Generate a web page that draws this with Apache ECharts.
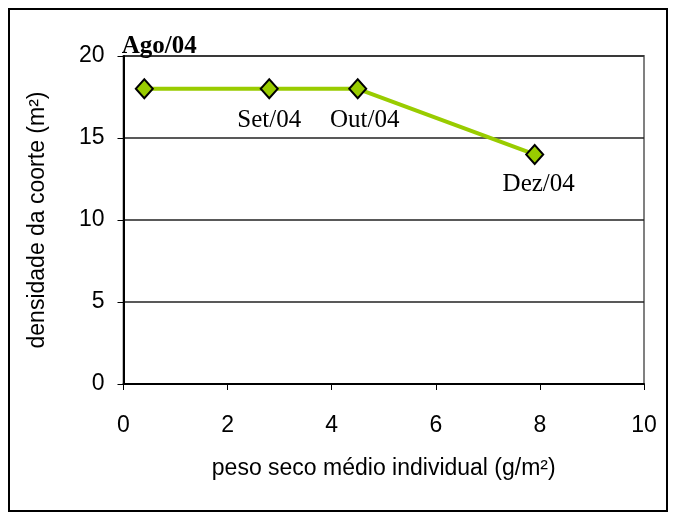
<!DOCTYPE html>
<html>
<head>
<meta charset="utf-8">
<script src="https://cdn.jsdelivr.net/npm/echarts@6/dist/echarts.min.js"></script>
<style>
  html, body { margin: 0; padding: 0; background: #fff; }
  #chart { width: 674px; height: 517px; }
</style>
</head>
<body>
<div id="chart"></div>
<script>
// Cohort trajectory: mean individual dry weight vs. cohort density
const months = ['Ago/04', 'Set/04', 'Out/04', 'Dez/04'];
const pesoSeco = [0.4, 2.8, 4.5, 7.9];
const densidade = [18, 18, 18, 14];
const xTicks = [0, 2, 4, 6, 8, 10];
const yTicks = [0, 5, 10, 15, 20];

// Label placement for each month
const labelStyles = [
  { position: 'top', offset: [15, -14], fontWeight: 'bold' },
  { position: 'bottom', offset: [0, 4] },
  { position: 'bottom', offset: [7, 4] },
  { position: 'bottom', offset: [4, 2] }
];

const points = months.map((m, i) => ({
  value: [pesoSeco[i], densidade[i]],
  label: Object.assign({ show: true, formatter: m }, labelStyles[i])
}));

const chart = echarts.init(document.getElementById('chart'), null, { renderer: 'canvas' });
chart.setOption({
  animation: false,
  backgroundColor: '#ffffff',
  grid: { left: 123.5, top: 56, right: 30, bottom: 133, show: true, borderColor: '#808080', borderWidth: 2, backgroundColor: 'transparent' },
  graphic: [{
    type: 'rect',
    shape: { x: 9, y: 9, width: 658, height: 502 },
    style: { fill: 'none', stroke: '#000', lineWidth: 2 },
    silent: true
  }],
  xAxis: {
    type: 'value',
    min: xTicks[0], max: xTicks[xTicks.length - 1], interval: 2,
    name: 'peso seco médio individual (g/m²)',
    nameLocation: 'middle', nameGap: 73,
    nameTextStyle: { fontFamily: 'Liberation Sans', fontSize: 23, color: '#000' },
    axisLine: { show: true, onZero: false, lineStyle: { color: '#000', width: 2 } },
    axisTick: { show: true, inside: false, length: 6, lineStyle: { color: '#000', width: 1 } },
    axisLabel: { fontFamily: 'Liberation Sans', fontSize: 23, color: '#000', margin: 30 },
    splitLine: { show: false }
  },
  yAxis: {
    type: 'value',
    min: yTicks[0], max: yTicks[yTicks.length - 1], interval: 5,
    name: 'densidade da coorte (m²)',
    nameLocation: 'middle', nameGap: 74, nameRotate: 90,
    nameTextStyle: { fontFamily: 'Liberation Sans', fontSize: 23, color: '#000' },
    axisLine: { show: true, lineStyle: { color: '#000', width: 2 } },
    axisTick: { show: true, inside: false, length: 6, lineStyle: { color: '#000', width: 1 } },
    axisLabel: { fontFamily: 'Liberation Sans', fontSize: 23, color: '#000', margin: 19 },
    splitLine: { show: true, lineStyle: { color: '#222', width: 1.5 } }
  },
  series: [{
    type: 'line',
    data: points,
    symbol: 'diamond',
    symbolSize: [17, 19],
    lineStyle: { color: '#99cc00', width: 4 },
    itemStyle: { color: '#99cc00', borderColor: '#000', borderWidth: 2 },
    label: { fontFamily: 'Liberation Serif', fontSize: 25, color: '#000' },
    z: 3
  }]
});
</script>
</body>
</html>
